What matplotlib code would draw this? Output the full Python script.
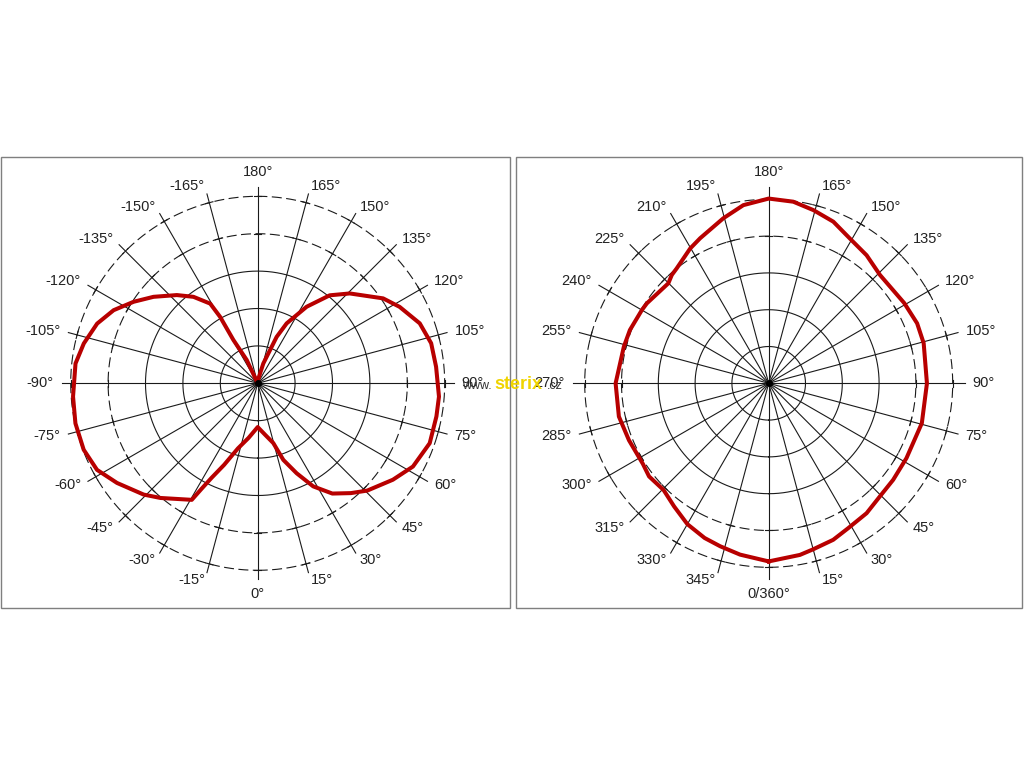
import numpy as np
import matplotlib.pyplot as plt
from matplotlib.patches import Rectangle

plt.rcParams['font.family'] = ['Liberation Sans', 'DejaVu Sans']

# left diagram: angle (deg, 0 at bottom, + towards right) and relative radius (ring = 1)
left_ang = [-180, -154.8, -150.7, -150.5, -149.2, -143.4, -137.5, -129.7, -123.3,
            -116.9, -110.4, -102.9, -96.2, -85.9, -77.6, -69.1, -61.7, -54.7,
            -45.7, -40.3, -29.5, -28.0, -26.0, -22.4, -16.9, -9.5, 0,
            8.5, 14.6, 18.5, 23.4, 28.3, 34.1, 40.3, 45.6, 54.5, 61.8, 70.8,
            79.5, 85.8, 95.3, 103.0, 110.3, 118.3, 124.1, 134.3, 140.7, 147.4,
            154.2, 157.8, 164.2, 172, 180]
left_r = [0.0, 0.69, 1.33, 2.04, 2.48, 2.88, 3.20, 3.62, 3.97,
          4.32, 4.58, 4.77, 4.90, 4.95, 4.99, 4.98, 4.88, 4.61,
          4.26, 4.02, 3.58, 3.19, 2.81, 2.36, 1.82, 1.48, 1.17,
          1.40, 1.65, 2.16, 2.62, 3.13, 3.56, 3.85, 4.10, 4.44, 4.71, 4.87,
          4.86, 4.86, 4.79, 4.76, 4.62, 4.31, 4.05, 3.44, 3.04, 2.43,
          1.78, 1.34, 0.55, 0.12, 0.0]

# right diagram
right_ang = [0, 10.3, 15, 22.4, 28.8, 37, 44.5, 52.2, 61.5, 75.4, 90, 104.5, 112,
             120.6, 134.2, 142.6, 150.7, 158.2, 165.5, 172.3, 180, 188.1, 195.4,
             205.3, 210.2, 218.7, 221.8, 225.1, 236.7, 240, 249, 255.8, 270,
             282.5, 292.2, 302.6, 307.9, 315.4, 322.5, 330, 337.5, 343.4, 350.5, 360]
right_r = [4.84, 4.74, 4.67, 4.60, 4.49, 4.42, 4.31, 4.28, 4.26, 4.30, 4.30, 4.35, 4.35,
           4.28, 4.22, 4.38, 4.51, 4.73, 4.86, 4.98, 5.02, 4.89, 4.65,
           4.36, 4.24, 4.00, 3.95, 3.85, 3.96, 3.98, 4.04, 4.06, 4.16,
           4.17, 4.10, 4.06, 4.12, 4.07, 4.22, 4.42, 4.55, 4.62, 4.72, 4.84]

spokes = np.arange(0, 360, 15)
left_labels = [f'{a}°' if a <= 180 else f'{a - 360}°' for a in spokes]
right_labels = ['0/360°' if a == 0 else f'{a}°' for a in spokes]

W, H = 1024, 768
fig = plt.figure(figsize=(W / 100, H / 100), dpi=100)
fig.patch.set_facecolor('white')

RMAX = 5.8
GRID = '#1a1a1a'
RED = '#b80000'


def polar_panel(cx, cy, unit, ang, r, labels):
    half = RMAX * unit
    ax = fig.add_axes([(cx - half) / W, (H - cy - half) / H, 2 * half / W, 2 * half / H],
                      projection='polar')
    ax.set_theta_zero_location('S')
    ax.set_theta_direction(1)
    ax.set_ylim(0, RMAX)
    ax.grid(False)
    ax.set_xticks([])
    ax.set_yticks([])
    ax.spines['polar'].set_visible(False)
    ax.patch.set_alpha(0)

    t = np.linspace(0, 2 * np.pi, 721)
    for ring in (1, 2, 3):
        ax.plot(t, np.full_like(t, ring), color=GRID, lw=0.8)
    for ring in (4, 5):
        ax.plot(t, np.full_like(t, ring), color=GRID, lw=0.8, dashes=(9, 4))

    for a, lab in zip(spokes, labels):
        th = np.deg2rad(a)
        ax.plot([th, th], [0, 196 / unit], color=GRID, lw=0.8)
        for ring in (4, 5):
            d = 0.1 / ring
            ax.plot([th - d, th + d], [ring, ring], color=GRID, lw=0.8)
        s = np.sin(th)
        if abs(s) < 0.01:
            ax.text(th, 211 / unit, lab, ha='center', va='center', fontsize=10.5,
                    color='#222222')
        else:
            ax.text(th, 204 / unit, lab, ha='left' if s > 0 else 'right', va='center',
                    fontsize=10.5, color='#222222')

    ax.plot(np.deg2rad(ang), r, color=RED, lw=2.9, solid_joinstyle='round', zorder=5)
    ax.plot([0], [0], 'o', color='black', ms=4, zorder=6)
    return ax


polar_panel(257.7, 383.3, 37.4, left_ang, left_r, left_labels)
polar_panel(768.7, 383.3, 36.8, right_ang, right_r, right_labels)

# panel frames
for x0, x1 in ((1, 510), (516, 1022)):
    fig.add_artist(Rectangle((x0 / W, (H - 608) / H), (x1 - x0) / W, (608 - 157) / H,
                             transform=fig.transFigure, fill=False, ec='#7f7f7f', lw=1))

# watermark
fig.text(462 / W, (H - 389) / H, 'www.', fontsize=9, color='#333333', ha='left', va='baseline')
fig.text(494 / W, (H - 389) / H, 'sterix', fontsize=13, fontweight='bold',
         color='#f0d400', ha='left', va='baseline')
fig.text(547 / W, (H - 389) / H, '.cz', fontsize=9, color='#333333', ha='left', va='baseline')

fig.savefig('out.png', dpi=100, facecolor='white')
